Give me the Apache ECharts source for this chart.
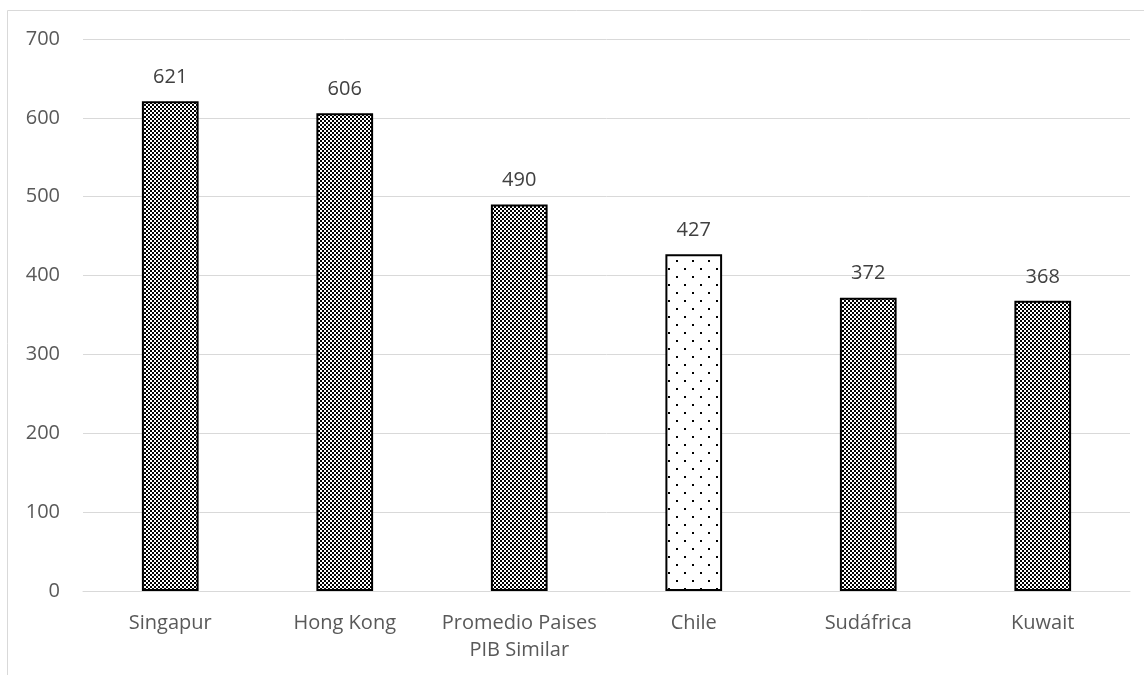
<!DOCTYPE html>
<html><head><meta charset="utf-8">
<script src="https://cdn.jsdelivr.net/npm/echarts@6/dist/echarts.min.js"></script>
<style>html,body{margin:0;padding:0;background:#fff}#c{width:1144px;height:675px}</style>
</head><body><div id="c"></div>
<script>
const categories = ['Singapur', 'Hong Kong', 'Promedio Paises\nPIB Similar', 'Chile', 'Sudáfrica', 'Kuwait'];
const values = [621, 606, 490, 427, 372, 368];
const highlightIndex = 3;

function checker() {
  const c = document.createElement('canvas'); c.width = 4; c.height = 4;
  const g = c.getContext('2d');
  g.fillStyle = '#fff'; g.fillRect(0, 0, 4, 4);
  g.fillStyle = '#000';
  g.fillRect(0, 0, 2, 2); g.fillRect(2, 2, 2, 2);
  return c;
}
function dots() {
  const c = document.createElement('canvas'); c.width = 16; c.height = 16;
  const g = c.getContext('2d');
  g.fillStyle = '#fff'; g.fillRect(0, 0, 16, 16);
  g.fillStyle = '#000';
  g.fillRect(4, 4, 2, 2); g.fillRect(12, 12, 2, 2);
  return c;
}
const pChecker = { image: checker(), repeat: 'repeat' };
const pDots = { image: dots(), repeat: 'repeat' };

const chart = echarts.init(document.getElementById('c'));
const font = '"Open Sans", "Noto Sans", sans-serif';
chart.setOption({
  animation: false,
  grid: { left: 83, right: 14, top: 39, bottom: 84, containLabel: false },
  graphic: [{ type: 'rect', shape: { x: 7.5, y: 10.5, width: 1200, height: 800 }, style: { fill: 'none', stroke: '#d9d9d9', lineWidth: 1 }, silent: true }],
  xAxis: {
    type: 'category', data: categories,
    axisLine: { lineStyle: { color: '#d9d9d9', width: 1 } },
    axisTick: { show: false },
    axisLabel: { color: '#595959', fontSize: 20, fontFamily: font, margin: 19, lineHeight: 27, interval: 0 }
  },
  yAxis: {
    type: 'value', min: 0, max: 700, interval: 100,
    axisLine: { show: false }, axisTick: { show: false },
    splitLine: { lineStyle: { color: '#d9d9d9', width: 1 } },
    axisLabel: { color: '#595959', fontSize: 20, fontFamily: font, margin: 23 }
  },
  series: [{
    type: 'bar', barWidth: '32.5%',
    data: values.map((v, i) => ({ value: v, itemStyle: { color: i === highlightIndex ? pDots : pChecker } })),
    itemStyle: { borderColor: '#000', borderWidth: 2 },
    label: { show: true, position: 'top', distance: 14, color: '#404040', fontSize: 20, fontFamily: font }
  }]
});
</script></body></html>
